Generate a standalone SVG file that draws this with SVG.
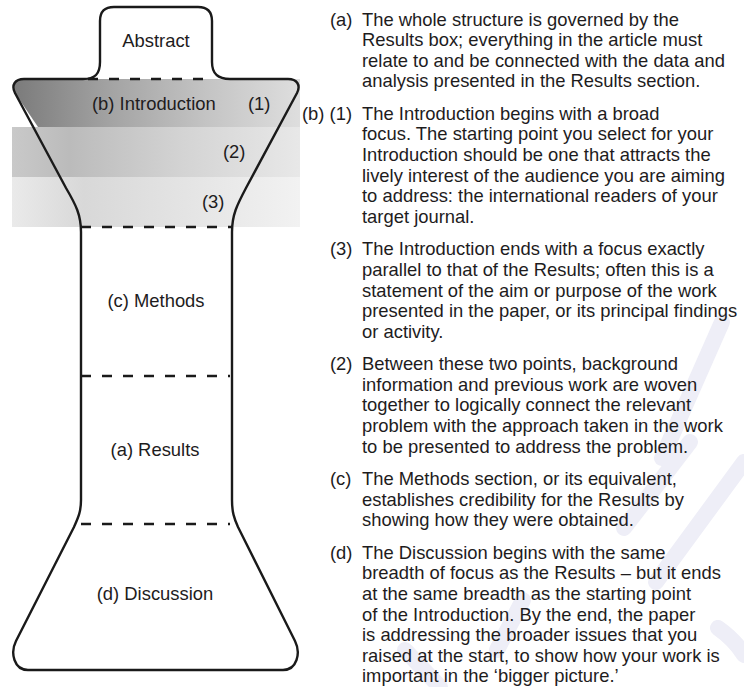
<svg xmlns="http://www.w3.org/2000/svg" width="744" height="687" viewBox="0 0 744 687">
<defs>
<linearGradient id="g1" x1="12" y1="0" x2="300" y2="0" gradientUnits="userSpaceOnUse">
<stop offset="0" stop-color="#7a7a7a"/><stop offset="0.35" stop-color="#a4a4a4"/><stop offset="0.7" stop-color="#c6c6c6"/><stop offset="1" stop-color="#dedede"/>
</linearGradient>
<linearGradient id="g2" x1="12" y1="0" x2="300" y2="0" gradientUnits="userSpaceOnUse">
<stop offset="0" stop-color="#c9c9c9"/><stop offset="0.2" stop-color="#bbbbbb"/><stop offset="0.6" stop-color="#d4d4d4"/><stop offset="1" stop-color="#e8e8e8"/>
</linearGradient>
<linearGradient id="g3" x1="12" y1="0" x2="300" y2="0" gradientUnits="userSpaceOnUse">
<stop offset="0" stop-color="#eaeaea"/><stop offset="0.25" stop-color="#d8d8d8"/><stop offset="0.6" stop-color="#e4e4e4"/><stop offset="1" stop-color="#f2f2f2"/>
</linearGradient>
</defs>
<style>
text{font-family:"Liberation Sans",Arial,sans-serif;font-size:18.4px;fill:#1e1c1d}
.lbl{text-anchor:middle}
.outline{fill:none;stroke:#1a1a1a;stroke-width:2.4;stroke-linejoin:round}
.dash{stroke:#1a1a1a;stroke-width:2.7;stroke-dasharray:10 11;fill:none}
.wm{fill:none;stroke:#eeeef7;stroke-width:16;stroke-linecap:round}
</style>
<rect width="744" height="687" fill="#ffffff"/>
<g id="watermark">
<path class="wm" d="M722,322 L662,458"/>
<path class="wm" d="M690,442 L624,528"/>
<path class="wm" d="M744,462 L656,582"/>
<path class="wm" d="M523,600 L497,650"/>
<path class="wm" d="M718,628 Q735,640 744,655"/>
<path class="wm" d="M405,650 L440,687"/>
</g>
<g id="bands">
<path d="M20,79 L300,79 L300,127 L38,127 L15,93 Q12,82 20,79 Z" fill="url(#g1)"/>
<rect x="12" y="127" width="288" height="50" fill="url(#g2)"/>
<rect x="12" y="177" width="288" height="50" fill="url(#g3)"/>
</g>
<g id="outline">
<path class="outline" d="M100,62 L100,21 Q100,7 114,7 L198,7 Q212,7 212,21 L212,62 C212,74 218,79 230,79 L288,79 C297,79 301,85 297,93 L246,188 C237,205 232,215 232,232 L232,500 C232,512 234,518 238,527 L295,641 C301,653 297,670 283,670 L28,670 C14,670 10,653 16,641 L74,527 C78,518 81,512 81,500 L81,232 C81,215 76,205 66,188 L15,93 C11,85 15,79 24,79 L83,79 C95,79 100,74 100,62 Z"/>
</g>
<g id="connectors">
<line class="dash" x1="88" y1="79" x2="214" y2="79"/>
<line class="dash" x1="81" y1="227" x2="232" y2="227"/>
<line class="dash" x1="81" y1="376" x2="230" y2="376"/>
<line class="dash" x1="81" y1="524" x2="230" y2="524"/>
</g>
<g id="abstract"><text class="lbl" x="156" y="47">Abstract</text></g>
<g id="introduction">
<text x="92" y="110">(b) Introduction</text>
<text x="248" y="110">(1)</text>
<text x="223" y="158">(2)</text>
<text x="202" y="208">(3)</text>
</g>
<g id="methods"><text class="lbl" x="156" y="307">(c) Methods</text></g>
<g id="results"><text class="lbl" x="155" y="456">(a) Results</text></g>
<g id="discussion"><text class="lbl" x="155" y="600">(d) Discussion</text></g>
<g id="notes">
<text x="330" y="25.5">(a)</text>
<text x="362" y="25.5">The whole structure is governed by the</text>
<text x="362" y="46.1">Results box; everything in the article must</text>
<text x="362" y="66.7">relate to and be connected with the data and</text>
<text x="362" y="87.3">analysis presented in the Results section.</text>
<text x="302" y="119.8">(b) (1)</text>
<text x="362" y="119.8">The Introduction begins with a broad</text>
<text x="362" y="140.4">focus. The starting point you select for your</text>
<text x="362" y="161">Introduction should be one that attracts the</text>
<text x="362" y="181.6">lively interest of the audience you are aiming</text>
<text x="362" y="202.2">to address: the international readers of your</text>
<text x="362" y="222.8">target journal.</text>
<text x="330" y="255.3">(3)</text>
<text x="362" y="255.3">The Introduction ends with a focus exactly</text>
<text x="362" y="275.9">parallel to that of the Results; often this is a</text>
<text x="362" y="296.5">statement of the aim or purpose of the work</text>
<text x="362" y="317.1">presented in the paper, or its principal findings</text>
<text x="362" y="337.7">or activity.</text>
<text x="330" y="370.2">(2)</text>
<text x="362" y="370.2">Between these two points, background</text>
<text x="362" y="390.8">information and previous work are woven</text>
<text x="362" y="411.4">together to logically connect the relevant</text>
<text x="362" y="432">problem with the approach taken in the work</text>
<text x="362" y="452.6">to be presented to address the problem.</text>
<text x="330" y="485.1">(c)</text>
<text x="362" y="485.1">The Methods section, or its equivalent,</text>
<text x="362" y="505.7">establishes credibility for the Results by</text>
<text x="362" y="526.3">showing how they were obtained.</text>
<text x="330" y="558.8">(d)</text>
<text x="362" y="558.8">The Discussion begins with the same</text>
<text x="362" y="579.4">breadth of focus as the Results – but it ends</text>
<text x="362" y="600">at the same breadth as the starting point</text>
<text x="362" y="620.6">of the Introduction. By the end, the paper</text>
<text x="362" y="641.2">is addressing the broader issues that you</text>
<text x="362" y="661.8">raised at the start, to show how your work is</text>
<text x="362" y="682.4">important in the ‘bigger picture.’</text>
</g>
</svg>
